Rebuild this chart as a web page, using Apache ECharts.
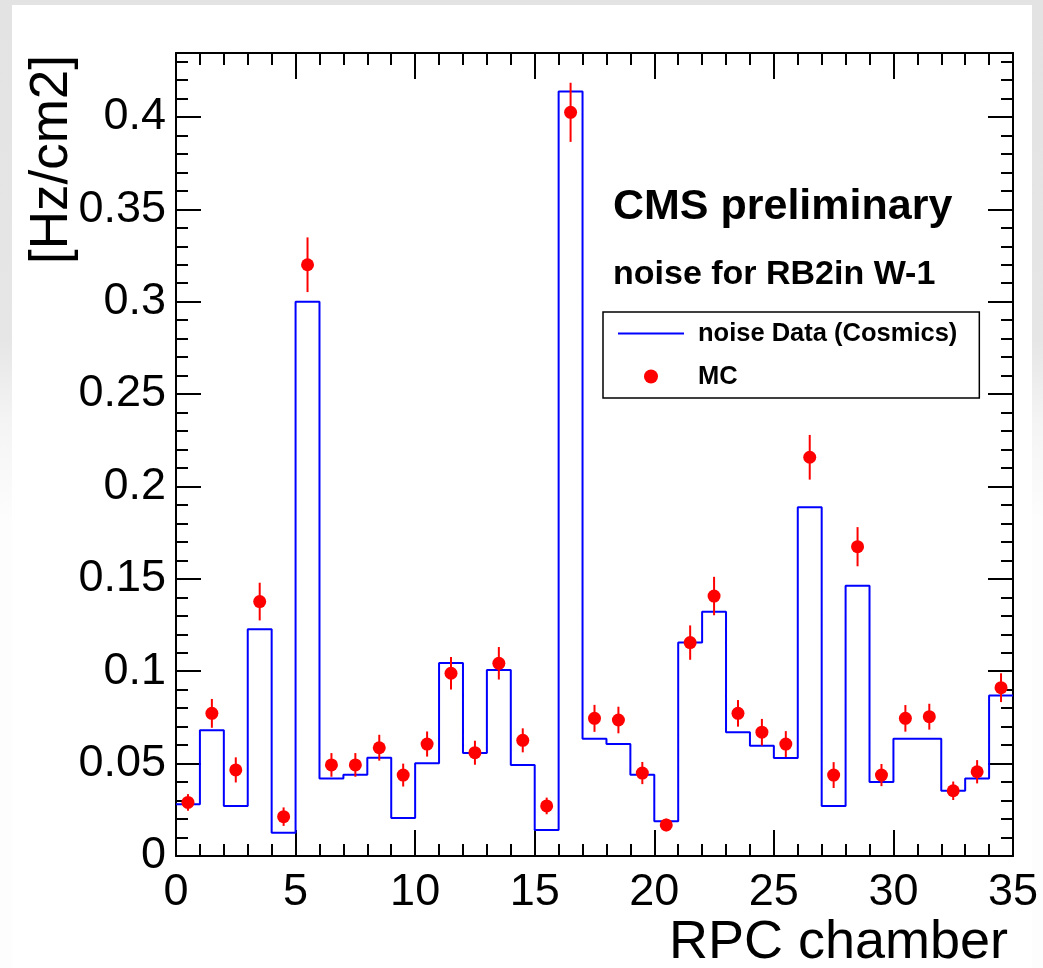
<!DOCTYPE html>
<html>
<head>
<meta charset="utf-8">
<script src="https://cdn.jsdelivr.net/npm/echarts@6/dist/echarts.min.js"></script>
<style>
  html, body { margin: 0; padding: 0; }
  body {
    width: 1043px; height: 968px; position: relative; overflow: hidden;
    background: linear-gradient(to bottom, #e3e3e3 0px, #e6e6e6 340px, #f4f4f4 420px, #fdfdfd 520px);
  }
  #panel { position: absolute; left: 12px; top: 5px; width: 1020px; height: 963px; background: #fff; }
  #chart { position: absolute; left: 0; top: 0; width: 1043px; height: 968px; }
</style>
</head>
<body>
<div id="panel"></div>
<div id="chart"></div>
<script>
// Noise rate per RPC chamber, one bin per chamber (bins 0..35, width 1)
const binLow = 0;
const binHigh = 35;

// Measured noise from cosmics data [Hz/cm2]
const noiseData = [
  0.028, 0.068, 0.027, 0.1227, 0.0126, 0.300, 0.042, 0.044, 0.0532, 0.0205,
  0.0502, 0.1044, 0.0558, 0.1007, 0.0493, 0.0141, 0.4137, 0.0635, 0.0606, 0.044,
  0.0188, 0.1155, 0.1322, 0.067, 0.0597, 0.053, 0.1887, 0.027, 0.1463, 0.040,
  0.0635, 0.0635, 0.0353, 0.042, 0.0868
];

// Simulated noise (MC) [Hz/cm2]
const mcValues = [
  0.029, 0.0772, 0.0466, 0.1377, 0.0213, 0.320, 0.0493, 0.0493, 0.0586, 0.0438,
  0.0606, 0.0989, 0.0559, 0.1043, 0.0626, 0.0271, 0.4025, 0.0745, 0.0736, 0.0449,
  0.0168, 0.1155, 0.1407, 0.0772, 0.067, 0.0606, 0.2158, 0.0438, 0.1674, 0.0438,
  0.0745, 0.0754, 0.0353, 0.0456, 0.0911
];

// Statistical uncertainty on each MC value
const mcErrors = [
  0.0045, 0.0078, 0.0068, 0.0102, 0.0050, 0.0148, 0.0064, 0.0064, 0.0070, 0.0062,
  0.0068, 0.0088, 0.0065, 0.0088, 0.0065, 0.0045, 0.0160, 0.0073, 0.0072, 0.0060,
  0.0034, 0.0093, 0.0104, 0.0072, 0.0072, 0.0070, 0.0121, 0.0070, 0.0106, 0.0060,
  0.0072, 0.0070, 0.0050, 0.0063, 0.0078
];

const yMin = 0;
const yMax = 0.4346;
const yMajorStep = 0.05;
const yMinorStep = 0.01;
const xMajorStep = 5;

const FONT = '"Liberation Sans", Arial, Helvetica, sans-serif';
const INK = '#000';

// Histogram outline: left edge of every bin, then the right edge of the last bin
const histLine = noiseData.map((v, i) => [binLow + i, v]);
histLine.push([binLow + noiseData.length, noiseData[noiseData.length - 1]]);

const mcPoints = mcValues.map((v, i) => [binLow + i + 0.5, v]);
const mcBars = mcValues.map((v, i) => [binLow + i + 0.5, v - mcErrors[i], v + mcErrors[i]]);

const frameLine = { show: true, onZero: false, lineStyle: { color: INK, width: 2 } };
const tickStyle = { color: INK, width: 2 };

function xAxisFor(position, withLabels) {
  return {
    type: 'value', position: position, offset: 0, min: binLow, max: binHigh, interval: xMajorStep,
    axisLine: frameLine,
    axisTick: { show: true, inside: true, length: 26, lineStyle: tickStyle },
    minorTick: { show: true, splitNumber: 5, length: 12, lineStyle: tickStyle },
    splitLine: { show: false }, minorSplitLine: { show: false },
    axisLabel: {
      show: withLabels, fontSize: 45, color: INK, fontFamily: FONT, margin: 14,
      showMinLabel: true, showMaxLabel: true
    }
  };
}

function isMultiple(v, step) {
  const r = v / step;
  return Math.abs(r - Math.round(r)) < 1e-6;
}

function yMajorAxis(position, withLabels) {
  return {
    type: 'value', position: position, offset: 0, min: yMin, max: yMax, interval: yMajorStep,
    axisLine: frameLine,
    axisTick: { show: true, inside: true, length: 25, lineStyle: tickStyle },
    splitLine: { show: false },
    axisLabel: {
      show: withLabels, fontSize: 45, color: INK, fontFamily: FONT, margin: 10,
      formatter: v => isMultiple(v, yMajorStep) ? String(+v.toFixed(2)) : ''
    }
  };
}

// Separate tick-only axis for the 0.01 subdivisions (kept at its own side, not on zero)
function yMinorAxis(position) {
  return {
    type: 'value', position: position, offset: 0, min: yMin, max: yMax, interval: yMinorStep,
    axisLine: { show: false, onZero: false },
    axisTick: { show: true, inside: true, length: 12, lineStyle: tickStyle },
    splitLine: { show: false },
    axisLabel: { show: false }
  };
}

const chart = echarts.init(document.getElementById('chart'), null, { renderer: 'canvas' });

chart.setOption({
  animation: false,
  backgroundColor: 'transparent',
  grid: { left: 176, top: 53, width: 837, height: 803, containLabel: false },
  xAxis: [xAxisFor('bottom', true), xAxisFor('top', false)],
  yAxis: [yMajorAxis('left', true), yMinorAxis('left'), yMajorAxis('right', false), yMinorAxis('right')],
  legend: {
    left: 603, top: 312, orient: 'vertical',
    data: [
      { name: 'noise Data (Cosmics)', itemStyle: { opacity: 0 } },
      { name: 'MC' }
    ],
    itemWidth: 66, itemHeight: 14, itemGap: 0,
    padding: [0, 22, 0, 14],
    borderColor: INK, borderWidth: 1.5, backgroundColor: '#fff',
    selectedMode: false,
    textStyle: {
      fontSize: 25.5, fontWeight: 'bold', fontFamily: FONT, color: INK,
      lineHeight: 43, padding: [0, 0, 0, 9]
    }
  },
  series: [
    {
      name: 'noise Data (Cosmics)', type: 'line', step: 'end',
      xAxisIndex: 0, yAxisIndex: 0,
      data: histLine, symbol: 'none', showSymbol: false,
      lineStyle: { color: '#0000ff', width: 2 },
      itemStyle: { color: '#0000ff' },
      z: 3
    },
    {
      name: 'MC error', type: 'custom',
      xAxisIndex: 0, yAxisIndex: 0,
      data: mcBars, encode: { x: 0, y: [1, 2] },
      renderItem: function (params, api) {
        const x = api.value(0);
        const lo = api.coord([x, api.value(1)]);
        const hi = api.coord([x, api.value(2)]);
        return {
          type: 'line',
          shape: { x1: lo[0], y1: lo[1], x2: hi[0], y2: hi[1] },
          style: { stroke: '#ff0000', lineWidth: 2 }
        };
      },
      z: 4
    },
    {
      name: 'MC', type: 'scatter',
      xAxisIndex: 0, yAxisIndex: 0,
      data: mcPoints, symbol: 'circle', symbolSize: 13,
      itemStyle: { color: '#ff0000', opacity: 1 },
      z: 5
    }
  ],
  graphic: [
    {
      type: 'text', x: 613, y: 207,
      style: { text: 'CMS preliminary', font: 'bold 43px ' + FONT, fill: INK, verticalAlign: 'middle', align: 'left' }
    },
    {
      type: 'text', x: 613, y: 275,
      style: { text: 'noise for RB2in W-1', font: 'bold 34px ' + FONT, fill: INK, verticalAlign: 'middle', align: 'left' }
    },
    {
      type: 'text', x: 1008, y: 943,
      style: { text: 'RPC chamber', font: '54px ' + FONT, fill: INK, verticalAlign: 'middle', align: 'right' }
    },
    {
      type: 'text', x: 52, y: 55, rotation: Math.PI / 2,
      style: { text: '[Hz/cm2]', font: '53px ' + FONT, fill: INK, verticalAlign: 'middle', align: 'right' }
    }
  ]
});
</script>
</body>
</html>
